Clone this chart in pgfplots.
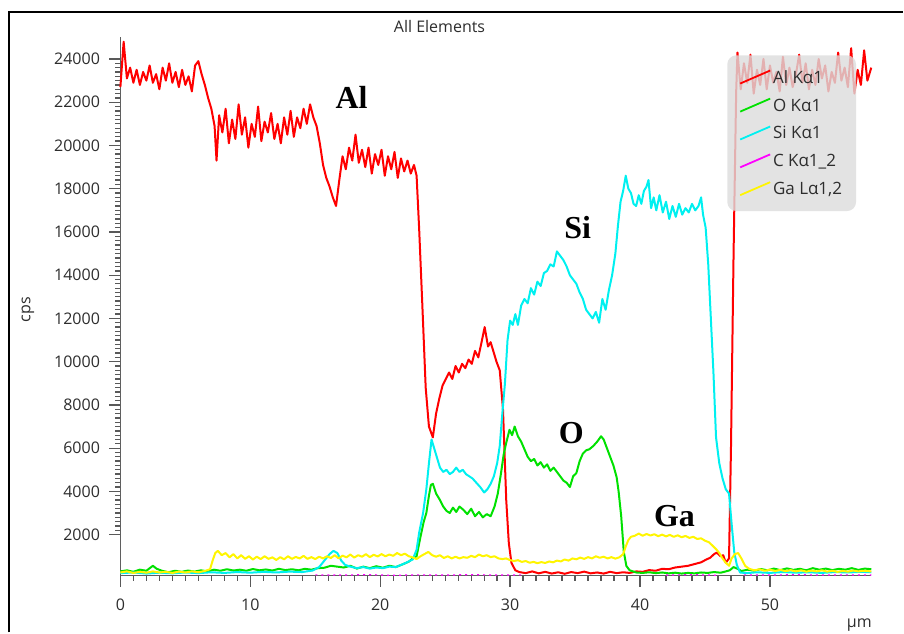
\documentclass[border=0pt]{standalone}
\usepackage{fontspec}
\setmainfont{Open Sans}
\newfontfamily\labfont{Liberation Serif}
\usepackage{pgfplots}
\pgfplotsset{compat=1.18}

\definecolor{alred}{RGB}{255,0,0}
\definecolor{ogreen}{RGB}{0,225,0}
\definecolor{sicyan}{RGB}{0,240,240}
\definecolor{cmag}{RGB}{255,0,255}
\definecolor{gayel}{RGB}{255,245,0}
\definecolor{txt}{RGB}{45,45,45}
\definecolor{legbg}{RGB}{220,220,220}
\definecolor{axgray}{RGB}{95,95,95}

\begin{document}
\begin{tikzpicture}
% page frame: 904 x 633
\path (0,0) rectangle (904pt,-633pt);
\begin{axis}[
    at={(120.5pt,-576.2pt)}, anchor=south west,
    scale only axis, width=751.5pt, height=538.8pt,
    xmin=0, xmax=57.8, ymin=100, ymax=25000,
    axis lines=left,
    axis line style={-, draw=axgray, line width=1.2pt},
    clip=false,
    tick align=outside,
    major tick length=11pt, minor tick length=5pt,
    xtick style={color=black!65, line width=1.3pt},
    ytick style={color=black!65, line width=1.3pt},
    xtick={0,10,...,50},
    minor x tick num=9,
    ytick={2000,4000,...,24000},
    minor y tick num=9,
    scaled y ticks=false,
    ticklabel style={font=\fontsize{16}{16}\selectfont, text=txt},
    yticklabel style={xshift=-6pt},
    xticklabel style={yshift=-9pt},
    /pgf/number format/assume math mode=true,
    /pgf/number format/1000 sep={},
    ylabel={cps},
    ylabel style={at={(rel axis cs:-0.123,0.494)}, anchor=center, font=\fontsize{16}{16}\selectfont, text=txt},
    xlabel={µm},
    xlabel style={at={(rel axis cs:0.984,-0.092)}, anchor=center, inner sep=0pt, font=\fontsize{16}{16}\selectfont, text=txt},
    legend style={at={(0.98,0.967)}, anchor=north east, fill=legbg, fill opacity=0.8, text opacity=1,
        draw=none, rounded corners=9pt, font=\fontsize{17}{17}\selectfont, text=txt,
        row sep=10pt, inner xsep=12pt, inner ysep=13pt},
    legend cell align=left,
    legend image code/.code={\draw[#1, line width=1.8pt] (0pt,-6pt) -- (30pt,7pt);},
    unbounded coords=jump,
    every axis plot/.append style={line width=2pt, line join=round},
]

% Al K alpha 1
\addplot[alred] coordinates {
(0.00,22700) (0.25,24800) (0.50,23100) (0.75,23600) (1.00,22900) (1.25,23500) (1.50,22800) (1.75,23400)
(2.00,23000) (2.25,23700) (2.50,22900) (2.75,23300) (3.00,22600) (3.25,23600) (3.50,23000) (3.75,23800)
(4.00,22900) (4.25,23400) (4.50,22700) (4.75,23500) (5.00,22800) (5.25,23200) (5.50,22500) (5.75,23700)
(6.00,23900) (6.25,23300) (6.50,22800) (6.75,22200) (7.00,21700) (7.25,20900) (7.40,19300) (7.60,21400)
(7.85,20600) (8.10,21700) (8.35,20100) (8.60,21200) (8.85,20300) (9.10,21900) (9.35,20500) (9.60,21300)
(9.85,19900) (10.10,21000) (10.35,20400) (10.60,21800) (10.85,20200) (11.10,21100) (11.35,20600) (11.60,21500)
(11.85,20300) (12.10,21000) (12.35,20100) (12.60,21300) (12.85,20500) (13.10,21600) (13.35,20400) (13.60,21300)
(13.85,20800) (14.10,21700) (14.35,21000) (14.60,21900) (14.85,21300) (15.10,20900) (15.35,20100) (15.60,19100)
(15.85,18500) (16.10,18100) (16.35,17600) (16.60,17200) (16.85,18400) (17.10,19500) (17.35,18900) (17.60,19900)
(17.85,19300) (18.10,20500) (18.35,19200) (18.60,19800) (18.85,19000) (19.10,19900) (19.35,18700) (19.60,19600)
(19.85,19100) (20.10,19800) (20.35,18600) (20.60,19500) (20.85,18900) (21.10,19700) (21.35,18500) (21.60,19400)
(21.85,18800) (22.10,19300) (22.35,18700) (22.60,19100) (22.80,18600) (23.00,16100) (23.25,12500) (23.50,8800)
(23.75,7000) (24.05,6500) (24.30,7600) (24.55,8300) (24.80,8900) (25.05,9200) (25.30,9500) (25.55,9200)
(25.80,9800) (26.05,9500) (26.30,9900) (26.55,9700) (26.80,10100) (27.05,9900) (27.30,10500) (27.55,10200)
(27.80,10900) (28.04,11600) (28.30,10700) (28.50,10900) (28.70,10500) (28.95,10000) (29.20,9600) (29.45,7800)
(29.70,3600) (29.90,1600) (30.10,700) (30.40,350) (30.70,270) (31.2,220) (31.7,300) (32.2,210)
(32.7,280) (33.2,200) (33.7,260) (34.2,190) (34.7,270) (35.2,220) (35.7,290) (36.2,210)
(36.7,250) (37.2,200) (37.7,280) (38.2,220) (38.7,260) (39.2,230) (39.7,300) (40.2,280)
(40.7,360) (41.2,330) (41.7,420) (42.2,400) (42.7,480) (43.2,520) (43.7,560) (44.2,640)
(44.7,720) (45.1,850) (45.4,930) (45.7,1100) (45.9,1170) (46.2,1000) (46.4,1050) (46.6,700)
(46.85,900) (47.0,6000) (47.2,15000) (47.4,22500) (47.5,24300) (47.75,22600) (48.0,23800) (48.25,22900)
(48.5,24200) (48.75,22400) (49.0,23500) (49.25,22800) (49.5,24000) (49.75,22600) (50.0,23700) (50.25,22900)
(50.5,23400) (50.75,22500) (51.0,24100) (51.25,22800) (51.5,23600) (51.75,22700) (52.0,23300) (52.25,24200)
(52.5,22900) (52.75,23800) (53.0,22600) (53.25,23500) (53.5,22800) (53.75,24000) (54.0,23100) (54.25,23700)
(54.5,22500) (54.75,23400) (55.0,22900) (55.25,24300) (55.5,23000) (55.75,23600) (56.0,22700) (56.25,24500)
(56.5,22400) (56.75,23500) (57.0,22800) (57.25,24400) (57.5,23000) (57.8,23600)
};
\addlegendentry{Al Kα1}

% O K alpha 1
\addplot[ogreen] coordinates {
(0,300) (0.5,350) (1.0,280) (1.5,380) (2.0,330) (2.5,560) (2.8,420) (3.2,330)
(3.7,260) (4.2,330) (4.7,280) (5.2,340) (5.7,290) (6.2,350) (6.7,300) (7.2,380)
(7.7,330) (8.2,400) (8.7,340) (9.2,380) (9.7,330) (10.2,410) (10.7,350) (11.2,390)
(11.7,340) (12.2,420) (12.7,360) (13.2,400) (13.7,350) (14.2,420) (14.7,380) (15.2,450)
(15.7,470) (16.2,560) (16.7,520) (17.2,480) (17.7,560) (18.2,430) (18.7,520) (19.2,450)
(19.7,540) (20.2,470) (20.7,560) (21.2,500) (21.7,620) (22.2,750) (22.5,900) (22.8,1000)
(23.1,1900) (23.35,2600) (23.55,3000) (23.75,3800) (23.9,4300) (24.05,4350) (24.3,3900) (24.6,3600)
(24.85,3300) (25.1,3100) (25.35,3000) (25.6,3250) (25.85,3050) (26.1,3300) (26.4,3150) (26.7,2950)
(27.0,3200) (27.3,2850) (27.6,3050) (27.9,2800) (28.2,2950) (28.5,2850) (28.8,3300) (29.05,3900)
(29.3,4850) (29.5,5700) (29.7,6250) (29.95,6850) (30.15,6600) (30.35,7000) (30.6,6550) (30.85,6300)
(31.1,5950) (31.35,5600) (31.6,5400) (31.85,5500) (32.1,5200) (32.35,5350) (32.6,5100) (32.85,5250)
(33.1,4950) (33.35,5100) (33.6,4900) (33.85,4700) (34.1,4500) (34.35,4400) (34.6,4200) (34.85,4700)
(35.1,4850) (35.35,5400) (35.6,5750) (35.85,5900) (36.1,5950) (36.4,6100) (36.7,6300) (37.0,6550)
(37.2,6400) (37.45,6000) (37.7,5600) (37.95,5200) (38.2,4650) (38.35,4000) (38.55,2850) (38.75,1200)
(38.95,550) (39.2,350) (39.7,250) (40.2,230) (40.7,260) (41.2,220) (41.7,250) (42.2,210)
(42.7,240) (43.2,200) (43.7,230) (44.2,210) (44.7,250) (45.2,230) (45.7,270) (46.2,240)
(46.6,300) (46.9,350) (47.2,500) (47.5,420) (47.8,320) (48.3,380) (48.8,330) (49.3,410)
(49.8,350) (50.3,430) (50.8,360) (51.3,440) (51.8,370) (52.3,420) (52.8,350) (53.3,450)
(53.8,380) (54.3,430) (54.8,360) (55.3,420) (55.8,380) (56.3,450) (56.8,370) (57.3,430) (57.8,400)
};
\addlegendentry{O Kα1}

% Si K alpha 1
\addplot[sicyan] coordinates {
(0,220) (1,250) (2,200) (3,240) (4,210) (5,250) (6,220) (7,260) (8,230) (9,270) (10,240)
(11,280) (12,250) (13,290) (14,270) (14.8,340) (15.3,500) (15.7,800) (16.1,1100) (16.4,1250)
(16.7,1150) (17.0,800) (17.3,600) (17.7,520) (18.2,450) (18.7,500) (19.2,430) (19.7,480)
(20.2,450) (20.7,520) (21.2,500) (21.6,600) (22.0,700) (22.5,850) (22.8,1300) (23.0,2100)
(23.3,3000) (23.55,4100) (23.75,5300) (23.95,6400) (24.15,6000) (24.35,5600) (24.6,5100) (24.85,4900)
(25.1,5000) (25.35,4800) (25.6,4900) (25.85,5100) (26.1,4900) (26.35,5000) (26.6,4800) (26.85,4700)
(27.1,4600) (27.4,4400) (27.7,4200) (28.0,3950) (28.25,4100) (28.5,4350) (28.75,4700) (29.0,5300)
(29.2,6100) (29.4,7600) (29.6,9000) (29.8,11000) (30.0,11900) (30.2,11700) (30.4,12200) (30.6,11700)
(30.85,12600) (31.1,12900) (31.35,12700) (31.6,13400) (31.85,13100) (32.1,13700) (32.35,13500) (32.6,14100)
(32.85,14200) (33.1,14500) (33.35,14400) (33.6,15100) (33.85,14900) (34.1,14700) (34.35,14400) (34.6,14000)
(34.85,13800) (35.1,13600) (35.35,13200) (35.6,12900) (35.85,12400) (36.1,12200) (36.35,12000) (36.6,12300)
(36.85,11800) (37.1,12900) (37.35,12400) (37.6,13300) (37.85,14000) (38.1,15000) (38.3,16300) (38.5,17400)
(38.7,17900) (38.9,18600) (39.1,18000) (39.3,17800) (39.5,17300) (39.7,17200) (39.9,17700) (40.1,17300)
(40.3,17900) (40.5,18100) (40.65,18400) (40.85,17100) (41.05,17600) (41.25,17000) (41.5,17700) (41.75,16900)
(42.0,17400) (42.25,16600) (42.5,17200) (42.75,16700) (43.0,17300) (43.25,16800) (43.5,17100) (43.75,16900)
(44.0,17300) (44.25,17000) (44.5,17200) (44.7,17600) (44.85,16800) (45.05,16200) (45.25,14500) (45.45,12000)
(45.65,9500) (45.85,6500) (46.1,5300) (46.35,4600) (46.6,4100) (46.85,3900) (47.05,2500) (47.25,1200)
(47.45,600) (47.7,250) (48.2,220) (49,260) (50,230) (51,270) (52,240) (53,260) (54,230) (55,270)
(56,250) (57,280) (57.8,260)
};
\addlegendentry{Si Kα1}

% C K alpha 1_2 (mostly at the floor)
\addplot[cmag, line width=1.2pt, dash pattern=on 2pt off 4pt, forget plot] coordinates {
(15,140) (17,130) (19,150) (21,120) (23,140) (25,130) (27,150) (29,130) (31,140) (31.1,nan)
(42,130) (44,150) (46,120) (47.5,nan)
(48,140) (50,130) (52,150) (54,130) (56,140) (57.8,130)
};
\addlegendimage{cmag}
\addlegendentry{C Kα1\_2}

% Ga L alpha 1,2
\addplot[gayel] coordinates {
(0,250) (0.5,300) (1,230) (1.5,280) (2,240) (2.5,300) (3,250) (3.5,280) (4,230) (4.5,290)
(5,250) (5.5,300) (6,260) (6.5,320) (6.9,400) (7.1,800) (7.3,1150) (7.5,1250) (7.8,1050) (8.1,1150)
(8.4,950) (8.7,1100) (9.0,900) (9.3,1050) (9.6,880) (9.9,1000) (10.2,850) (10.5,980) (10.8,870) (11.1,1000)
(11.4,880) (11.7,950) (12.0,830) (12.3,960) (12.6,860) (12.9,1000) (13.2,880) (13.5,970) (13.8,900) (14.1,1020)
(14.4,880) (14.7,960) (15.0,870) (15.3,980) (15.6,900) (15.9,1000) (16.2,920) (16.5,1050) (16.8,900) (17.1,1030)
(17.4,950) (17.7,1080) (18.0,940) (18.3,1050) (18.6,980) (18.9,1100) (19.2,960) (19.5,1070) (19.8,990) (20.1,1100)
(20.4,1000) (20.7,1080) (21.0,1020) (21.3,1150) (21.6,1050) (21.9,1120) (22.2,1000) (22.5,950) (22.8,870) (23.1,1000)
(23.4,1100) (23.7,1200) (24.0,1050) (24.3,980) (24.6,1050) (24.9,920) (25.2,1000) (25.5,900) (25.8,980) (26.1,900)
(26.4,960) (26.7,930) (27.0,1020) (27.3,960) (27.6,1080) (27.9,1000) (28.2,1050) (28.5,960) (28.8,1000) (29.1,900)
(29.4,870) (29.7,900) (30.0,820) (30.3,780) (30.6,820) (30.9,740) (31.2,780) (31.5,700) (31.8,740) (32.1,680)
(32.4,730) (32.7,690) (33.0,760) (33.3,720) (33.6,800) (33.9,760) (34.2,850) (34.5,800) (34.8,900) (35.1,860)
(35.4,940) (35.7,880) (36.0,960) (36.3,900) (36.6,1000) (36.9,930) (37.2,980) (37.5,900) (37.8,960) (38.1,890)
(38.4,950) (38.7,1100) (38.9,1450) (39.1,1750) (39.3,1900) (39.6,1950) (39.9,2050) (40.2,1950) (40.5,2030) (40.8,1960)
(41.1,2020) (41.4,1930) (41.7,2000) (42.0,1920) (42.3,1990) (42.6,1900) (42.9,1970) (43.2,1880) (43.5,1940) (43.8,1850)
(44.1,1900) (44.4,1800) (44.7,1830) (45.0,1720) (45.3,1650) (45.6,1480) (45.9,1300) (46.1,1150) (46.35,900) (46.6,700)
(46.85,560) (47.05,900) (47.3,1100) (47.55,1150) (47.8,900) (48.1,550) (48.4,420) (48.8,350) (49.2,400) (49.6,330)
(50.0,380) (50.4,320) (50.8,370) (51.2,310) (51.6,360) (52.0,300) (52.4,350) (52.8,290) (53.2,340) (53.6,300)
(54.0,350) (54.4,290) (54.8,330) (55.2,280) (55.6,320) (56.0,290) (56.4,340) (56.8,300) (57.2,330) (57.8,300)
};
\addlegendentry{Ga Lα1,2}

\node[font=\fontsize{16}{16}\selectfont, text=txt] at (rel axis cs:0.425,1.021) {All Elements};
\node[font=\labfont\bfseries\fontsize{32}{32}\selectfont] at (axis cs:17.8,22244) {Al};
\node[font=\labfont\bfseries\fontsize{32}{32}\selectfont] at (axis cs:35.2,16190) {Si};
\node[font=\labfont\bfseries\fontsize{32}{32}\selectfont] at (axis cs:34.7,6717) {O};
\node[font=\labfont\bfseries\fontsize{32}{32}\selectfont] at (axis cs:42.65,2840) {Ga};
\end{axis}
\draw[black, line width=1.5pt] (9pt,-633pt) -- (9pt,-12pt) -- (904pt,-12pt);
\end{tikzpicture}
\end{document}
